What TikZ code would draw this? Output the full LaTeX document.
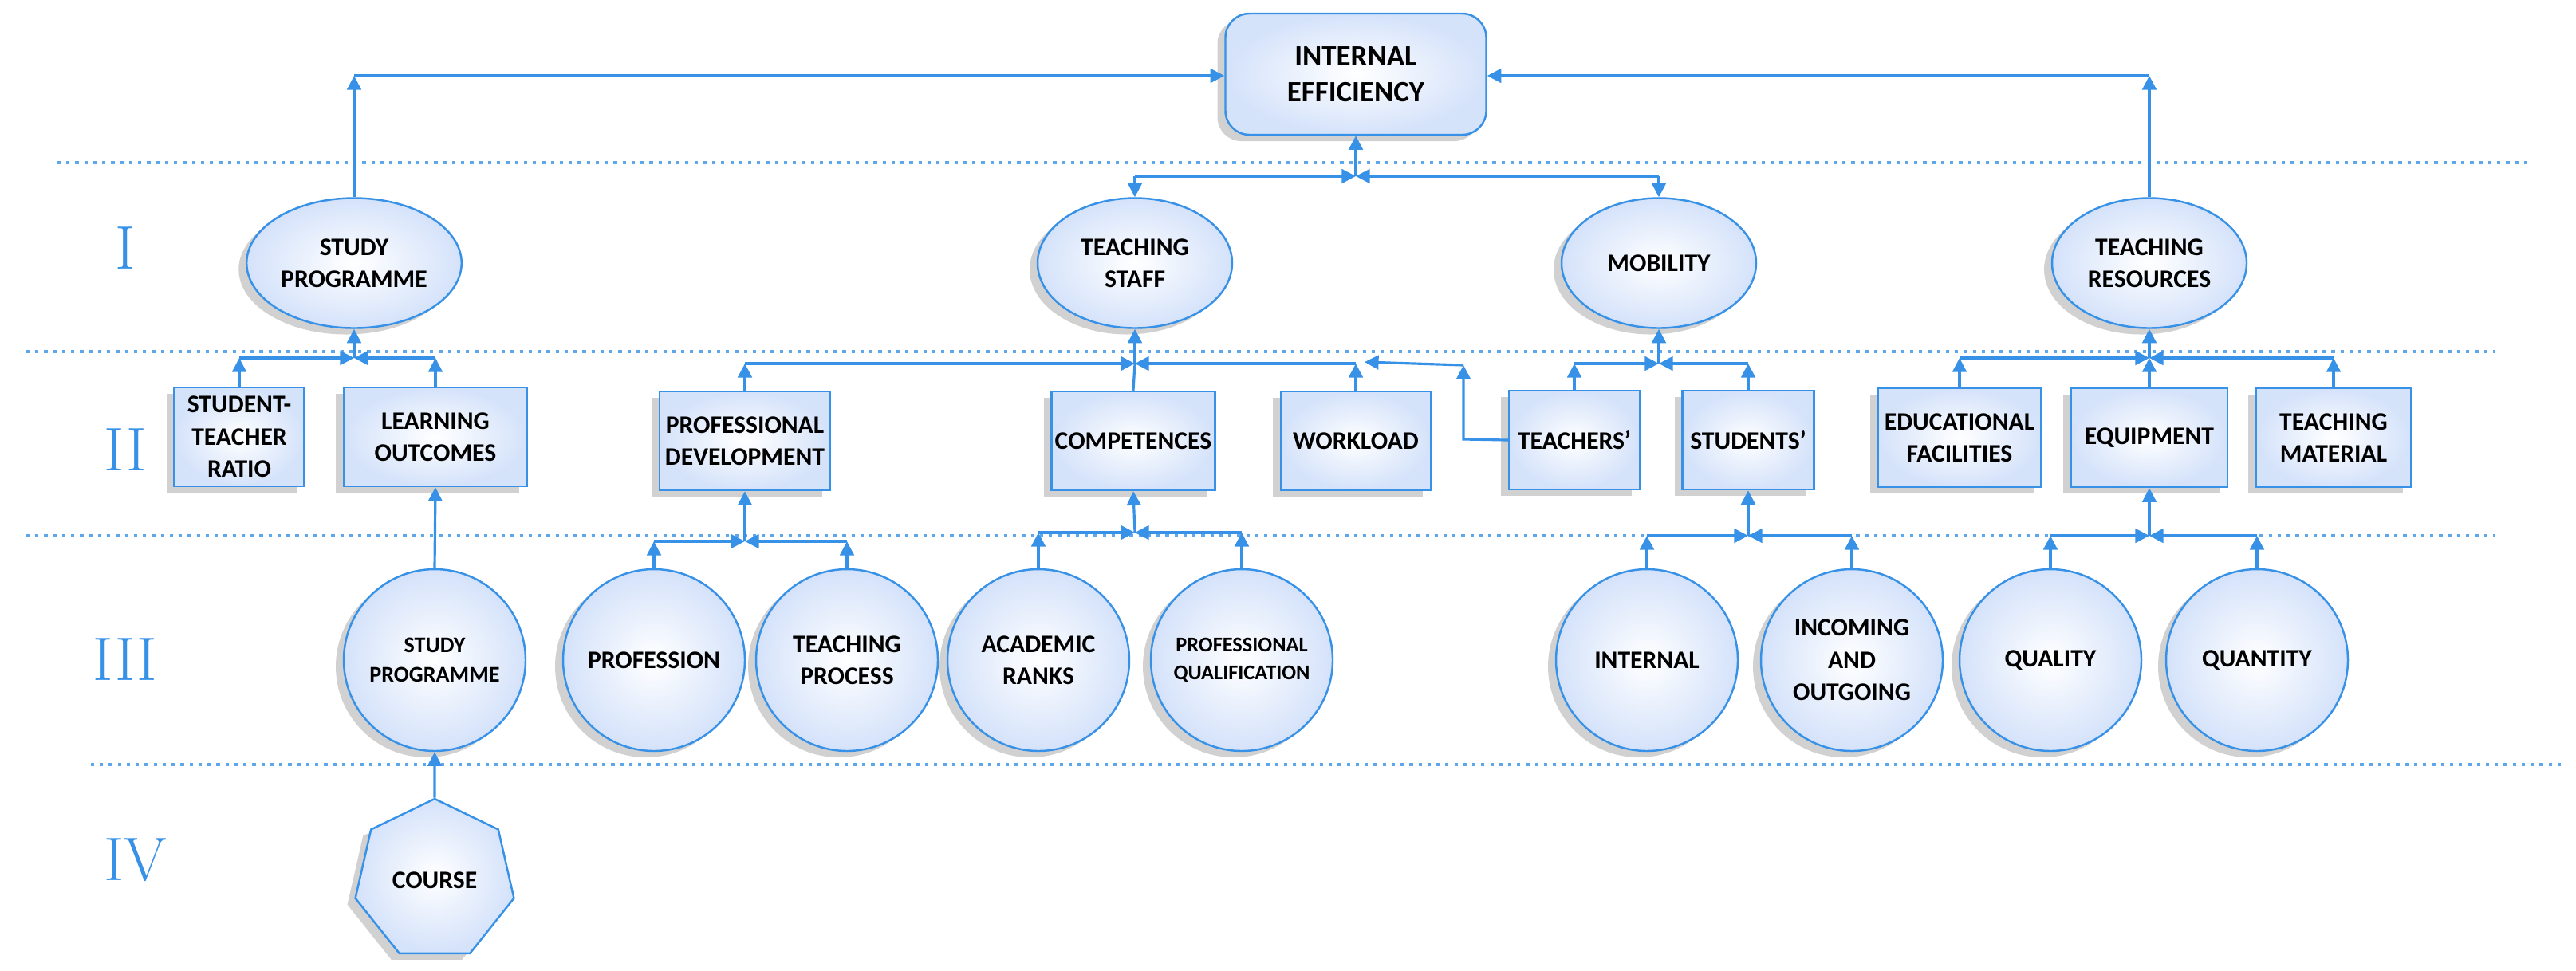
\documentclass[tikz,border=0pt]{standalone}
\usepackage{fontspec}
\newfontfamily\carl{Carlito}
\usetikzlibrary{shapes.geometric,shadows,arrows.meta}
\definecolor{lb}{RGB}{55,145,230}
\definecolor{fillb}{RGB}{212,226,250}
\begin{document}
\begin{tikzpicture}[
  conn/.style={draw=lb,line width=0.9pt,-{Triangle[length=5pt,width=5pt]}},
  plain/.style={draw=lb,line width=0.9pt},
  sh/.style={draw=lb,line width=0.7pt,inner color=white,outer color=fillb,
     drop shadow={shadow xshift=-0.1cm,shadow yshift=-0.08cm,fill=black!45,opacity=0.4},
     font=\carl\bfseries\fontsize{9}{11.5}\selectfont,align=center,inner sep=1pt},
  box/.style={sh,rectangle,minimum height=1.24cm},
  ell/.style={sh,ellipse,minimum width=2.44cm,minimum height=1.63cm},
  circ/.style={sh,circle,minimum size=2.28cm},
  dots/.style={draw=lb!80,line width=1.2pt,dotted},
  roman/.style={text=lb,font=\fontsize{22}{24}\selectfont}]
\useasboundingbox (0,0) rectangle (32.30,-12.17);
% dotted separators
\draw[dots] (0.72,-2.04) -- (31.70,-2.04);
\draw[dots] (0.33,-4.41) -- (31.28,-4.41);
\draw[dots] (0.33,-6.72) -- (31.28,-6.72);
\draw[dots] (1.14,-9.59) -- (32.11,-9.59);
% roman numerals
\node[roman] (r1) at (1.57,-3.11) {I};
\node[roman] (r2) at (1.57,-5.64) {II};
\node[roman] (r3) at (1.57,-8.27) {III};
\node[roman] (r4) at (1.70,-10.79) {IV};
% top
\node[sh,rectangle,rounded corners=0.3cm,minimum width=3.27cm,minimum height=1.52cm,font=\carl\bfseries\fontsize{10.5}{13}\selectfont] (ie) at (17.00,-0.93) {INTERNAL\\EFFICIENCY};
% level I
\node[ell] (sp) at (4.44,-3.30) {STUDY\\PROGRAMME};
\node[ell] (ts) at (14.23,-3.30) {TEACHING\\STAFF};
\node[ell] (mob) at (20.80,-3.30) {MOBILITY};
\node[ell] (tr) at (26.95,-3.30) {TEACHING\\RESOURCES};
% level II
\node[box,minimum width=1.63cm] (str) at (3.00,-5.48) {STUDENT-\\TEACHER\\RATIO};
\node[box,minimum width=2.30cm] (lo) at (5.46,-5.48) {LEARNING\\OUTCOMES};
\node[box,minimum width=2.14cm] (pd) at (9.34,-5.53) {PROFESSIONAL\\DEVELOPMENT};
\node[box,minimum width=2.05cm] (comp) at (14.21,-5.53) {COMPETENCES};
\node[box,minimum width=1.88cm] (wl) at (17.00,-5.53) {WORKLOAD};
\node[box,minimum width=1.64cm] (teach) at (19.74,-5.52) {TEACHERS’};
\node[box,minimum width=1.65cm] (stud) at (21.92,-5.52) {STUDENTS’};
\node[box,minimum width=2.05cm] (edf) at (24.57,-5.49) {EDUCATIONAL\\FACILITIES};
\node[box,minimum width=1.96cm] (eq) at (26.95,-5.49) {EQUIPMENT};
\node[box,minimum width=1.94cm] (tm) at (29.26,-5.49) {TEACHING\\MATERIAL};
% level III
\node[circ,font=\carl\bfseries\fontsize{8}{10.5}\selectfont] (sp3) at (5.45,-8.28) {STUDY\\PROGRAMME};
\node[circ] (prof) at (8.20,-8.28) {PROFESSION};
\node[circ] (tp) at (10.62,-8.28) {TEACHING\\PROCESS};
\node[circ] (ar) at (13.02,-8.28) {ACADEMIC\\RANKS};
\node[circ,font=\carl\bfseries\fontsize{7.5}{10}\selectfont] (pq) at (15.57,-8.28) {PROFESSIONAL\\QUALIFICATION};
\node[circ] (int) at (20.65,-8.28) {INTERNAL};
\node[circ] (inc) at (23.22,-8.28) {INCOMING\\AND\\OUTGOING};
\node[circ] (qual) at (25.71,-8.28) {QUALITY};
\node[circ] (quan) at (28.30,-8.28) {QUANTITY};
% level IV
\node[sh,regular polygon,regular polygon sides=7,minimum size=2.04cm,inner sep=0pt] (course) at (5.45,-11.04) {COURSE};
% junctions
\coordinate (jie) at (17.00,-2.21);
\coordinate (jsp) at (4.44,-4.49);
\coordinate (jts) at (14.23,-4.56);
\coordinate (jmob) at (20.80,-4.56);
\coordinate (jtr) at (26.95,-4.49);
\coordinate (jpd) at (9.34,-6.79);
\coordinate (jcomp) at (14.23,-6.68);
\coordinate (jstud) at (21.92,-6.72);
\coordinate (jeq) at (26.95,-6.72);
\coordinate (tie) at (17.00,-0.95);
% top connections
\draw[conn] (sp.north) -- (sp.north |- tie);
\draw[conn] (sp.north |- tie) -- (ie.west |- tie);
\draw[conn] (tr.north) -- (tr.north |- tie);
\draw[conn] (tr.north |- tie) -- (ie.east |- tie);
\draw[conn] (jie) -- (ie.south);
\draw[conn] (ts.north |- jie) -- (jie);
\draw[conn] (mob.north |- jie) -- (jie);
\draw[conn] (jie -| ts.north) -- (ts.north);
\draw[conn] (jie -| mob.north) -- (mob.north);
\newcommand\mybranch[2]{%
  \draw[conn] (#1.north) -- (#1.north |- #2);
  \draw[conn] (#1.north |- #2) -- (#2);}
% study programme
\draw[conn] (jsp) -- (sp.south);
\mybranch{str}{jsp}
\mybranch{lo}{jsp}
% teaching staff
\draw[conn] (jts) -- (ts.south);
\mybranch{pd}{jts}
\draw[plain] (comp.north) -- (jts);
\mybranch{wl}{jts}
\coordinate (tk1) at (18.35,-5.51);
\coordinate (tk2) at (18.35,-4.58);
\coordinate (tk3) at (17.11,-4.54);
\draw[conn] (teach.west) -- (tk1) -- (tk2);
\draw[conn] (tk2) -- (tk3);
% mobility
\draw[conn] (jmob) -- (mob.south);
\mybranch{teach}{jmob}
\mybranch{stud}{jmob}
% teaching resources
\draw[conn] (jtr) -- (tr.south);
\mybranch{edf}{jtr}
\draw[conn] (eq.north) -- (jtr);
\mybranch{tm}{jtr}
% level III
\draw[conn] (sp3.north) -- (lo.south);
\draw[conn] (jpd) -- (pd.south);
\mybranch{prof}{jpd}
\mybranch{tp}{jpd}
\draw[conn] (jcomp) -- (comp.south);
\mybranch{ar}{jcomp}
\mybranch{pq}{jcomp}
\draw[conn] (jstud) -- (stud.south);
\mybranch{int}{jstud}
\mybranch{inc}{jstud}
\draw[conn] (jeq) -- (eq.south);
\mybranch{qual}{jeq}
\mybranch{quan}{jeq}
\draw[conn] (course.north) -- (sp3.south);
\end{tikzpicture}
\end{document}
